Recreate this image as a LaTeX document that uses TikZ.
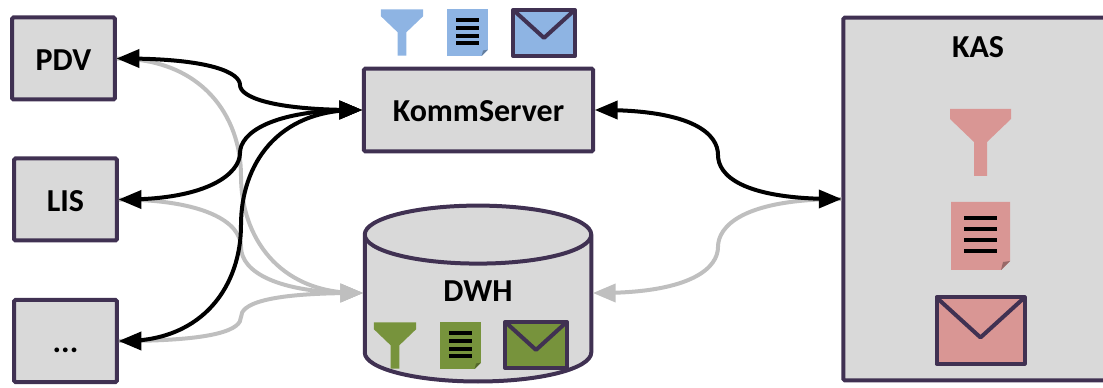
\documentclass[tikz,border=0pt]{standalone}
\usepackage{fontspec}
\setmainfont{Carlito}
\usetikzlibrary{arrows}
\usetikzlibrary{positioning}
\definecolor{boxfill}{HTML}{D9D9D9}
\definecolor{boxline}{HTML}{403152}
\definecolor{lightline}{HTML}{BFBFBF}
\definecolor{iconblue}{HTML}{8EB4E3}
\definecolor{icongreen}{HTML}{77933C}
\definecolor{iconred}{HTML}{D99694}
\tikzset{
  pics/funnelicon/.style={code={
    \fill [#1] (-30.5,-33.5) -- (30.5,-33.5) -- (30.5,-23.5) -- (6.5,-0.5) -- (6.5,33.5)
      -- (-6.5,33.5) -- (-6.5,-0.5) -- (-30.5,-23.5) -- cycle;
  }},
  pics/docicon/.style={code={
    \fill [#1] (-29.5,-34) -- (29.5,-34) -- (29.5,25) -- (20.5,34) -- (-29.5,34) -- cycle;
    \fill [#1!70!black] (20.5,34) -- (29.5,25) -- (22.5,26) -- cycle;
    \foreach \row in {-18,-6.5,4.5,15.5}
      \draw [line width=3pt] (-16.5,\row) -- (16.5,\row);
  }},
  pics/mailicon/.style={code={
    \draw [fill=#1, draw=boxline, line width=3pt, line join=round]
      (-44,-33) rectangle (44,33);
    \draw [draw=boxline, line width=3pt, line join=round]
      (-44,-33) -- (0,7) -- (44,-33);
  }}
}
\begin{document}
\begin{tikzpicture}
  [x=0.75pt, y=-0.75pt,
  box/.style={shape=rectangle, fill=boxfill, draw=boxline, line width=3pt,
         rounded corners=1pt, inner sep=0pt, text height=18pt, text depth=0pt,
         font=\bfseries\fontsize{24}{26}\selectfont},
  client/.style={box, minimum width=77pt, minimum height=61.5pt},
  caption/.style={inner sep=0pt, outer sep=0pt, font=\bfseries\fontsize{24}{26}\selectfont},
  >=triangle 45
  ]
  \useasboundingbox (0,0) rectangle (1103,388);

  % the store outline comes first, its node only holds the text
  \path [fill=boxfill, draw=boxline, line width=3pt]
    (364.75,234.6) -- (364.75,352.5) arc (180:0:113.25 and 29)
    -- (591.25,234.6) arc (0:-180:113.25 and 29) -- cycle
    (364.75,234.6) arc (180:0:113.25 and 29);

  \path
    (63.5,58.5) node (pdv)  [client] {PDV}
    (65.5,199.5) node (lis) [client] {LIS}
    (65.5,341)  node (more) [client] {...}
    (478.5,110) node (komm) [box, minimum width=171.9pt, minimum height=62pt] {KommServer}
    (478,293)   node (dwh)  [caption, minimum width=172.7pt, minimum height=134pt,
                             text height=15pt, text depth=3pt] {DWH}
    (978,199)   node (kas)  [box, minimum width=202pt, minimum height=272pt] {}
    ;
  \node (kastext) [caption] at (978,47) {KAS};

  \coordinate (pdvdwh)  at (241,176);
  \coordinate (lisdwh)  at (241,247);
  \coordinate (moredwh) at (241,317);
  \coordinate (kasdwh)  at (718,247);
  \coordinate (pdvkomm)  at (240,85);
  \coordinate (liskomm)  at (240,153);
  \coordinate (morekomm) at (241,225);
  \coordinate (kaskomm)  at (718,155);

  \begin{scope}[line width=3pt, color=lightline]
  \draw [->] (pdv.east) .. controls +(85,0) and +(0,-60) .. (pdvdwh)
     .. controls +(0,60) and +(-85,0) .. (dwh.west);
  \draw [->] (lis.east) .. controls +(85,0) and +(0,-25) .. (lisdwh)
     .. controls +(0,25) and +(-85,0) .. (dwh.west);
  \draw [->] (more.east) .. controls +(100,0) and +(0,12) .. (moredwh)
     .. controls +(0,-12) and +(-100,0) .. (dwh.west);
  \draw [->] (kas.west) .. controls +(-100,0) and +(0,-20) .. (kasdwh)
     .. controls +(0,20) and +(100,0) .. (dwh.east);
  \end{scope}

  \begin{scope}[line width=3pt]
  \draw [<->] (pdv.east) .. controls +(95,0) and +(0,-12) .. (pdvkomm)
     .. controls +(0,12) and +(-90,0) .. (komm.west);
  \draw [<->] (lis.east) .. controls +(90,0) and +(0,20) .. (liskomm)
     .. controls +(0,-20) and +(-90,0) .. (komm.west);
  \draw [<->] (more.east) .. controls +(85,0) and +(0,60) .. (morekomm)
     .. controls +(0,-60) and +(-85,0) .. (komm.west);
  \draw [<->] (komm.east) .. controls +(100,0) and +(0,-20) .. (kaskomm)
     .. controls +(0,20) and +(-100,0) .. (kas.west);
  \end{scope}

  \pic [scale=0.69] at (402,32.5) {funnelicon=iconblue};
  \pic [scale=0.69] at (467.5,32.5) {docicon=iconblue};
  \pic [scale=0.7] at (544,33) {mailicon=iconblue};

  \pic [scale=0.69] at (395,345.5) {funnelicon=icongreen};
  \pic [scale=0.69] at (460.5,345.5) {docicon=icongreen};
  \pic [scale=0.7] at (536,345) {mailicon=icongreen};

  \pic at (980.5,142.5) {funnelicon=iconred};
  \pic at (980.5,236) {docicon=iconred};
  \pic at (980.5,330.5) {mailicon=iconred};
\end{tikzpicture}
\end{document}
